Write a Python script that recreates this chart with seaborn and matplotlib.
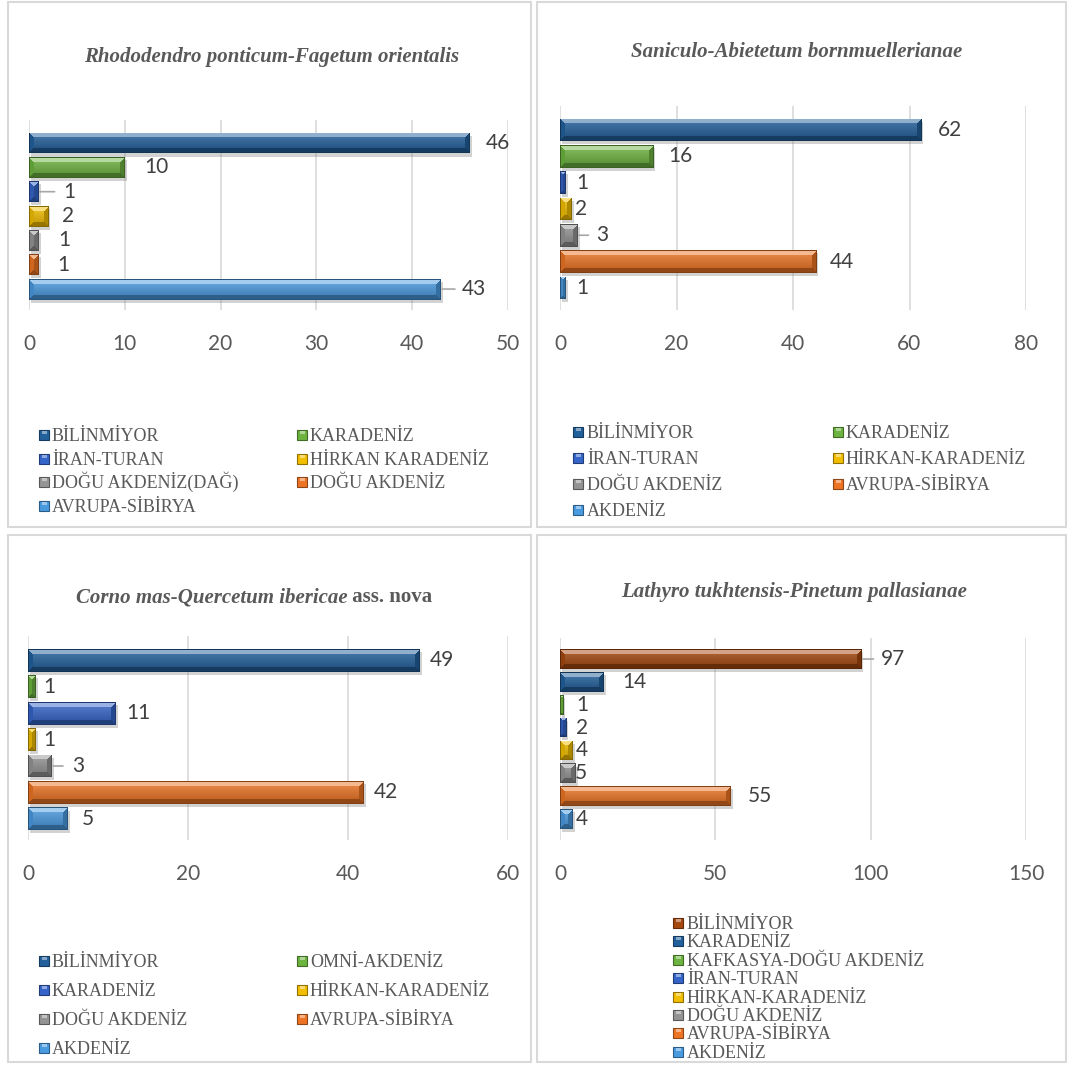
import numpy as np
import pandas as pd
import matplotlib
matplotlib.use("Agg")
import matplotlib.pyplot as plt
import seaborn as sns
from matplotlib.colors import to_rgb
from matplotlib.patches import Rectangle
import matplotlib.patheffects as pe

# ---------------- data ----------------
p1_title = "Rhododendro ponticum-Fagetum orientalis"
p1_labels = ["BİLİNMİYOR", "KARADENİZ", "İRAN-TURAN", "HİRKAN KARADENİZ",
             "DOĞU AKDENİZ(DAĞ)", "DOĞU AKDENİZ", "AVRUPA-SİBİRYA"]
p1_values = [46, 10, 1, 2, 1, 1, 43]
p1_ticks = [0, 10, 20, 30, 40, 50]

p2_title = "Saniculo-Abietetum bornmuellerianae"
p2_labels = ["BİLİNMİYOR", "KARADENİZ", "İRAN-TURAN", "HİRKAN-KARADENİZ",
             "DOĞU AKDENİZ", "AVRUPA-SİBİRYA", "AKDENİZ"]
p2_values = [62, 16, 1, 2, 3, 44, 1]
p2_ticks = [0, 20, 40, 60, 80]

p3_title_italic = "Corno mas-Quercetum ibericae"
p3_title_plain = " ass. nova"
p3_labels = ["BİLİNMİYOR", "OMNİ-AKDENİZ", "KARADENİZ", "HİRKAN-KARADENİZ",
             "DOĞU AKDENİZ", "AVRUPA-SİBİRYA", "AKDENİZ"]
p3_values = [49, 1, 11, 1, 3, 42, 5]
p3_ticks = [0, 20, 40, 60]

p4_title = "Lathyro tukhtensis-Pinetum pallasianae"
p4_labels = ["BİLİNMİYOR", "KARADENİZ", "KAFKASYA-DOĞU AKDENİZ", "İRAN-TURAN",
             "HİRKAN-KARADENİZ", "DOĞU AKDENİZ", "AVRUPA-SİBİRYA", "AKDENİZ"]
p4_values = [97, 14, 1, 2, 4, 5, 55, 4]
p4_ticks = [0, 50, 100, 150]

# ---------------- styles ----------------
DARKBLUE, GREEN, BLUE, YELLOW = "#22609C", "#6DB33F", "#3565C8", "#F2BE00"
GREY, ORANGE, LIGHTBLUE, DARKORANGE = "#949494", "#EC7424", "#4A9AE0", "#A5480F"
p1_colors = [DARKBLUE, GREEN, BLUE, YELLOW, GREY, ORANGE, LIGHTBLUE]
p2_colors = [DARKBLUE, GREEN, BLUE, YELLOW, GREY, ORANGE, LIGHTBLUE]
p3_colors = [DARKBLUE, GREEN, BLUE, YELLOW, GREY, ORANGE, LIGHTBLUE]
p4_colors = [DARKORANGE, DARKBLUE, GREEN, BLUE, YELLOW, GREY, ORANGE, LIGHTBLUE]

# label gap (px) after bar end, leader length (px, 0 = none)
p1_gap = [16, 19, 25, 14, 20, 19, 21]
p1_lead = [0, 0, 16, 0, 0, 0, 14]
p2_gap = [17, 15, 10, 3, 19, 13, 10]
p2_lead = [0, 0, 0, 0, 11, 0, 0]
p3_gap = [10, 7, 10, 7, 20, 10, 14]
p3_lead = [0, 0, 0, 0, 11, 0, 0]
p4_gap = [20, 19, 13, 10, 3, -1, 17, 3]
p4_lead = [12, 0, 0, 0, 0, 0, 0, 0]

W, H = 1068, 1066
sns.set_theme(style="white")
plt.rcParams["font.family"] = ["Lato", "DejaVu Sans"]
fig = plt.figure(figsize=(W / 100, H / 100), dpi=100)
fig.patch.set_facecolor("white")

SERIF = ["Liberation Serif", "DejaVu Serif"]
TXT = "#595959"
LBL = "#404040"


def fx(px):
    return px / W


def fy(py):
    return 1 - py / H


def lighten(c, f):
    c = np.array(to_rgb(c))
    return c + (1 - c) * f


def darken(c, f):
    c = np.array(to_rgb(c))
    return c * (1 - f)


def bevel_image(w, h, base):
    h = max(int(round(h)), 2)
    w = max(int(round(w)), 2)
    i = np.arange(h)[:, None] + 0.5
    j = np.arange(w)[None, :] + 0.5
    dt = np.broadcast_to(i, (h, w))
    db = np.broadcast_to(h - i, (h, w))
    dl = np.broadcast_to(j, (h, w))
    dr = np.broadcast_to(w - j, (h, w))
    stack = np.stack([dt, db, dl, dr])
    m = stack.min(axis=0)
    which = stack.argmin(axis=0)
    t = (np.arange(h) / max(h - 1, 1))[:, None]
    top_c = lighten(base, 0.18)
    bot_c = darken(base, 0.22)
    img = np.zeros((h, w, 3))
    for k in range(3):
        img[..., k] = top_c[k] * (1 - t) + bot_c[k] * t
    b = min(5.0, h * 0.3)
    edge_cols = [lighten(base, 0.5), darken(base, 0.38), darken(base, 0.12), darken(base, 0.28)]
    for k, col in enumerate(edge_cols):
        mask = (m < b) & (which == k)
        img[mask] = col
    img[m < 1.0] = darken(base, 0.45)
    return np.clip(img, 0, 1)


def panel(rect_px, labels, values, colors, ticks, pad_top, pad_bot, gaps, leads):
    left, top, width, bottom = rect_px
    ax = fig.add_axes([fx(left), fy(bottom), fx(width), (bottom - top) / H])
    df = pd.DataFrame({"label": labels, "value": values})
    sns.barplot(data=df, x="value", y="label", hue="label", palette=colors,
                order=labels, hue_order=labels, orient="h", width=0.86,
                dodge=False, legend=False, ax=ax, zorder=2)
    n = len(labels)
    ax.set_xlim(ticks[0], ticks[-1])
    ax.set_ylim(n - 1 + pad_bot, -pad_top)
    ax.set_xticks(ticks)
    ax.set_xticklabels([str(t) for t in ticks])
    ax.set_yticks([])
    ax.set_xlabel("")
    ax.set_ylabel("")
    ax.grid(axis="x", color="#d9d9d9", linewidth=1.2, zorder=0)
    ax.set_axisbelow(True)
    for s in ax.spines.values():
        s.set_visible(False)
    ax.tick_params(axis="x", length=0, pad=17, labelsize=15, labelcolor=TXT)
    for tl in ax.get_xticklabels():
        tl.set_fontfamily(["Lato", "DejaVu Sans"])
    ax.patch.set_alpha(0)

    for p in list(ax.patches):
        yc = p.get_y() + p.get_height() / 2
        idx = int(round(yc))
        base = colors[idx]
        x0, y0 = p.get_x(), p.get_y()
        wv, hv = p.get_width(), p.get_height()
        a = ax.transData.transform((x0, y0))
        bpt = ax.transData.transform((x0 + wv, y0 + hv))
        wpx, hpx = abs(bpt[0] - a[0]), abs(bpt[1] - a[1])
        img = bevel_image(wpx, hpx, base)
        p.set_facecolor(base)
        p.set_edgecolor("none")
        p.set_zorder(1.5)
        p.set_path_effects([pe.SimplePatchShadow(offset=(1.5, -2.2), shadow_rgbFace="#808080", alpha=0.35),
                            pe.Normal()])
        im = ax.imshow(img, extent=(x0, x0 + wv, y0 + hv, y0), origin="upper",
                       aspect="auto", interpolation="nearest", zorder=2.5)
        im.set_clip_path(p)

    ax.set_xlim(ticks[0], ticks[-1])
    ax.set_ylim(n - 1 + pad_bot, -pad_top)

    for i, v in enumerate(values):
        ax.annotate(str(v), xy=(v, i), xytext=(gaps[i] * 0.72, 0),
                    textcoords="offset points", va="center", ha="left",
                    fontsize=15, color=LBL, family=["Lato", "DejaVu Sans"], zorder=4)
        if leads[i]:
            ax.annotate("", xy=(v, i), xytext=(leads[i] * 0.72, 0),
                        textcoords="offset points",
                        arrowprops=dict(arrowstyle="-", color="#a6a6a6", lw=1.2,
                                        shrinkA=0, shrinkB=1), zorder=3)
    return ax


def legend(labels, colors, xs_marker, xs_text, y0, dy, ncol):
    for k, (lab, col) in enumerate(zip(labels, colors)):
        r, c = divmod(k, ncol)
        yc = y0 + r * dy
        xm = xs_marker[c]
        fig.patches.append(Rectangle((fx(xm - 5), fy(yc + 5)), 10 / W, 10 / H,
                                     transform=fig.transFigure, facecolor=col,
                                     edgecolor=darken(col, 0.4), linewidth=0.8))
        fig.patches.append(Rectangle((fx(xm - 2.5), fy(yc - 1)), 5 / W, 3 / H,
                                     transform=fig.transFigure, facecolor=lighten(col, 0.45),
                                     edgecolor="none"))
        fig.text(fx(xs_text[c]), fy(yc + 6), lab, ha="left", va="baseline",
                 fontsize=13, color=TXT, family=SERIF)


# panel frames
for (x0, y0, x1, y1) in [(8, 2, 531, 527), (537, 2, 1066, 527),
                         (8, 535, 531, 1062), (537, 535, 1066, 1062)]:
    fig.patches.append(Rectangle((fx(x0), fy(y1)), (x1 - x0) / W, (y1 - y0) / H,
                                 transform=fig.transFigure, facecolor="none",
                                 edgecolor="#d9d9d9", linewidth=1.5))

panel((29, 120, 479, 310), p1_labels, p1_values, p1_colors, p1_ticks, 0.945, 0.86, p1_gap, p1_lead)
panel((560, 106, 466, 310), p2_labels, p2_values, p2_colors, p2_ticks, 0.91, 0.84, p2_gap, p2_lead)
panel((28, 636, 480, 840), p3_labels, p3_values, p3_colors, p3_ticks, 0.92, 0.8, p3_gap, p3_lead)
panel((560, 638, 466, 840), p4_labels, p4_values, p4_colors, p4_ticks, 0.92, 0.92, p4_gap, p4_lead)

# titles
TFS = 15
fig.text(fx(272), fy(62), p1_title, ha="center", va="baseline", fontsize=TFS,
         color=TXT, family=SERIF, style="italic", weight="bold")
fig.text(fx(797), fy(57), p2_title, ha="center", va="baseline", fontsize=TFS,
         color=TXT, family=SERIF, style="italic", weight="bold")
fig.text(fx(794), fy(597), p4_title, ha="center", va="baseline", fontsize=TFS,
         color=TXT, family=SERIF, style="italic", weight="bold")
t1 = fig.text(0, fy(602), p3_title_italic, ha="left", va="baseline", fontsize=TFS,
              color=TXT, family=SERIF, style="italic", weight="bold")
t2 = fig.text(0, fy(602), p3_title_plain, ha="left", va="baseline", fontsize=TFS,
              color=TXT, family=SERIF, weight="bold")
fig.canvas.draw()
rend = fig.canvas.get_renderer()
w1 = t1.get_window_extent(rend).width
w2 = t2.get_window_extent(rend).width
start = 254 - (w1 + w2) / 2
t1.set_x(fx(start))
t2.set_x(fx(start + w1))

# legends
legend(p1_labels, p1_colors, [44, 302], [52, 310], 435, 23.7, 2)
legend(p2_labels, p2_colors, [578, 838], [587, 846], 432, 26, 2)
legend(p3_labels, p3_colors, [44, 302], [52, 310], 961, 29, 2)
legend(p4_labels, p4_colors, [678], [687], 923, 18.4, 1)

fig.savefig("out.png", dpi=100, facecolor="white")
